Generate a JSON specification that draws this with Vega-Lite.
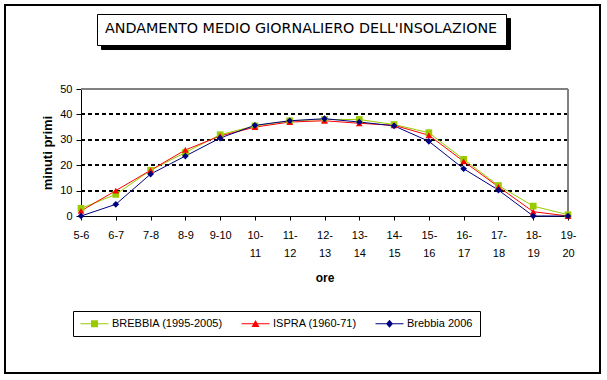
{
  "$schema": "https://vega.github.io/schema/vega-lite/v6.json",
  "width": 595,
  "height": 368,
  "autosize": "none",
  "padding": {"left": 5, "top": 5, "right": 7, "bottom": 7},
  "background": "white",
  "config": {
    "view": {"stroke": "black", "strokeWidth": 2, "fill": "white"},
    "font": "Liberation Sans",
    "axis": {"labelFont": "Liberation Sans", "titleFont": "Liberation Sans", "labelColor": "black", "titleColor": "black", "domainColor": "black", "tickColor": "black"}
  },
  "data": {
    "values": [
      {"ore": "5-6", "serie": "BREBBIA (1995-2005)", "minuti": 3},
      {"ore": "6-7", "serie": "BREBBIA (1995-2005)", "minuti": 8.5},
      {"ore": "7-8", "serie": "BREBBIA (1995-2005)", "minuti": 18},
      {"ore": "8-9", "serie": "BREBBIA (1995-2005)", "minuti": 25},
      {"ore": "9-10", "serie": "BREBBIA (1995-2005)", "minuti": 32},
      {"ore": "10-11", "serie": "BREBBIA (1995-2005)", "minuti": 35.5},
      {"ore": "11-12", "serie": "BREBBIA (1995-2005)", "minuti": 37.5},
      {"ore": "12-13", "serie": "BREBBIA (1995-2005)", "minuti": 38},
      {"ore": "13-14", "serie": "BREBBIA (1995-2005)", "minuti": 38},
      {"ore": "14-15", "serie": "BREBBIA (1995-2005)", "minuti": 36},
      {"ore": "15-16", "serie": "BREBBIA (1995-2005)", "minuti": 32.8},
      {"ore": "16-17", "serie": "BREBBIA (1995-2005)", "minuti": 22.3},
      {"ore": "17-18", "serie": "BREBBIA (1995-2005)", "minuti": 12},
      {"ore": "18-19", "serie": "BREBBIA (1995-2005)", "minuti": 3.9},
      {"ore": "19-20", "serie": "BREBBIA (1995-2005)", "minuti": 0.5},
      {"ore": "5-6", "serie": "ISPRA (1960-71)", "minuti": 2},
      {"ore": "6-7", "serie": "ISPRA (1960-71)", "minuti": 10},
      {"ore": "7-8", "serie": "ISPRA (1960-71)", "minuti": 18},
      {"ore": "8-9", "serie": "ISPRA (1960-71)", "minuti": 26},
      {"ore": "9-10", "serie": "ISPRA (1960-71)", "minuti": 31.5},
      {"ore": "10-11", "serie": "ISPRA (1960-71)", "minuti": 35},
      {"ore": "11-12", "serie": "ISPRA (1960-71)", "minuti": 37},
      {"ore": "12-13", "serie": "ISPRA (1960-71)", "minuti": 37.5},
      {"ore": "13-14", "serie": "ISPRA (1960-71)", "minuti": 36.5},
      {"ore": "14-15", "serie": "ISPRA (1960-71)", "minuti": 35.7},
      {"ore": "15-16", "serie": "ISPRA (1960-71)", "minuti": 31.8},
      {"ore": "16-17", "serie": "ISPRA (1960-71)", "minuti": 21.5},
      {"ore": "17-18", "serie": "ISPRA (1960-71)", "minuti": 11.5},
      {"ore": "18-19", "serie": "ISPRA (1960-71)", "minuti": 1.7},
      {"ore": "19-20", "serie": "ISPRA (1960-71)", "minuti": 0},
      {"ore": "5-6", "serie": "Brebbia 2006", "minuti": 0},
      {"ore": "6-7", "serie": "Brebbia 2006", "minuti": 4.6},
      {"ore": "7-8", "serie": "Brebbia 2006", "minuti": 16.5},
      {"ore": "8-9", "serie": "Brebbia 2006", "minuti": 23.6},
      {"ore": "9-10", "serie": "Brebbia 2006", "minuti": 30.7},
      {"ore": "10-11", "serie": "Brebbia 2006", "minuti": 35.7},
      {"ore": "11-12", "serie": "Brebbia 2006", "minuti": 37.5},
      {"ore": "12-13", "serie": "Brebbia 2006", "minuti": 38.3},
      {"ore": "13-14", "serie": "Brebbia 2006", "minuti": 37},
      {"ore": "14-15", "serie": "Brebbia 2006", "minuti": 35.5},
      {"ore": "15-16", "serie": "Brebbia 2006", "minuti": 29.4},
      {"ore": "16-17", "serie": "Brebbia 2006", "minuti": 18.6},
      {"ore": "17-18", "serie": "Brebbia 2006", "minuti": 10.2},
      {"ore": "18-19", "serie": "Brebbia 2006", "minuti": 0},
      {"ore": "19-20", "serie": "Brebbia 2006", "minuti": 0}
    ]
  },
  "encoding": {
    "x": {
      "field": "ore", "type": "ordinal",
      "sort": ["5-6","6-7","7-8","8-9","9-10","10-11","11-12","12-13","13-14","14-15","15-16","16-17","17-18","18-19","19-20"],
      "scale": {"type": "point", "range": [76, 563], "padding": 0},
      "axis": {
        "title": "ore", "offset": -157, "labelAngle": 0, "grid": false,
        "tickSize": 4, "labelPadding": 9, "labelFontSize": 11, "labelLineHeight": 18,
        "labelExpr": "length(datum.value) > 4 ? [slice(datum.value, 0, 3), slice(datum.value, 3)] : datum.value",
        "titleFontSize": 12, "titleFontWeight": "bold", "titlePadding": 14
      }
    },
    "y": {
      "field": "minuti", "type": "quantitative",
      "scale": {"domain": [0, 50], "range": [211, 84], "nice": false, "zero": true},
      "axis": {
        "title": "minuti primi", "offset": -76, "values": [0, 10, 20, 30, 40, 50], "grid": false,
        "tickSize": 5, "labelPadding": 4, "labelFontSize": 11,
        "titleFontSize": 13, "titleFontWeight": "bold", "titlePadding": 5
      }
    }
  },
  "resolve": {"scale": {"color": "independent", "shape": "independent"}},
  "layer": [
    {"mark": {"type": "rule", "strokeDash": [4, 3], "color": "black", "strokeWidth": 1}, "encoding": {"x": {"datum": "5-6"}, "x2": {"datum": "19-20"}, "y": {"datum": 10}}},
    {"mark": {"type": "rule", "strokeDash": [4, 3], "color": "black", "strokeWidth": 1}, "encoding": {"x": {"datum": "5-6"}, "x2": {"datum": "19-20"}, "y": {"datum": 20}}},
    {"mark": {"type": "rule", "strokeDash": [4, 3], "color": "black", "strokeWidth": 1}, "encoding": {"x": {"datum": "5-6"}, "x2": {"datum": "19-20"}, "y": {"datum": 30}}},
    {"mark": {"type": "rule", "strokeDash": [4, 3], "color": "black", "strokeWidth": 1}, "encoding": {"x": {"datum": "5-6"}, "x2": {"datum": "19-20"}, "y": {"datum": 40}}},
    {"mark": {"type": "rule", "color": "#808080", "strokeWidth": 1}, "encoding": {"x": {"datum": "5-6"}, "x2": {"datum": "19-20"}, "y": {"datum": 50}}},
    {"mark": {"type": "rule", "color": "#808080", "strokeWidth": 1}, "encoding": {"x": {"datum": "19-20"}, "y": {"datum": 0}, "y2": {"datum": 50}}},
    {
      "mark": {"type": "line", "strokeWidth": 1},
      "encoding": {
        "color": {
          "field": "serie", "type": "nominal",
          "scale": {"domain": ["BREBBIA (1995-2005)", "ISPRA (1960-71)", "Brebbia 2006"], "range": ["#99CC00", "#FF0000", "#000080"]},
          "legend": null
        }
      }
    },
    {
      "mark": {"type": "point", "filled": true, "opacity": 1},
      "encoding": {
        "color": {
          "field": "serie", "type": "nominal",
          "scale": {"domain": ["BREBBIA (1995-2005)", "ISPRA (1960-71)", "Brebbia 2006"], "range": ["#99CC00", "#FF0000", "#000080"]},
          "legend": null
        },
        "shape": {
          "field": "serie", "type": "nominal",
          "scale": {"domain": ["BREBBIA (1995-2005)", "ISPRA (1960-71)", "Brebbia 2006"], "range": ["square", "triangle-up", "diamond"]},
          "legend": null
        },
        "size": {"value": 45}
      }
    },
    {
      "transform": [{"filter": "datum.minuti < 0"}],
      "mark": {"type": "point", "filled": true, "opacity": 1},
      "encoding": {
        "color": {
          "field": "serie", "type": "nominal",
          "scale": {"domain": ["BREBBIA (1995-2005)", "ISPRA (1960-71)", "Brebbia 2006"], "range": ["#99CC00", "#FF0000", "#000080"]},
          "legend": {
            "title": null, "orient": "none", "legendX": 68, "legendY": 306, "direction": "horizontal",
            "strokeColor": "black", "fillColor": "white", "padding": 7,
            "labelFont": "Liberation Sans", "labelFontSize": 11, "labelColor": "black", "labelOffset": 21,
            "columnPadding": 18, "symbolSize": 100, "symbolStrokeWidth": 0
          }
        },
        "shape": {
          "field": "serie", "type": "nominal",
          "scale": {
            "domain": ["BREBBIA (1995-2005)", "ISPRA (1960-71)", "Brebbia 2006"],
            "range": [
              "M-1,-0.1H4.6V0.1H-1Z M1.1,-0.7H2.5V0.7H1.1Z",
              "M-1,-0.1H4.6V0.1H-1Z M1.8,-0.75L2.6,0.65H1Z",
              "M-1,-0.1H4.6V0.1H-1Z M1.8,-0.8L2.5,0L1.8,0.8L1.1,0Z"
            ]
          },
          "legend": {
            "title": null, "orient": "none", "legendX": 68, "legendY": 306, "direction": "horizontal",
            "strokeColor": "black", "fillColor": "white", "padding": 7,
            "labelFont": "Liberation Sans", "labelFontSize": 11, "labelColor": "black", "labelOffset": 21,
            "columnPadding": 18, "symbolSize": 100, "symbolStrokeWidth": 0
          }
        }
      }
    },
    {
      "mark": {"type": "point", "filled": true},
      "encoding": {
        "size": {
          "datum": "a", "type": "ordinal", "scale": {"domain": ["a"], "range": [0, 0]},
          "legend": {
            "title": "ANDAMENTO MEDIO GIORNALIERO DELL'INSOLAZIONE", "orient": "none", "legendX": 92, "legendY": 9,
            "titleFont": "DejaVu Sans", "titleFontSize": 14.3, "titleFontWeight": "normal", "titleColor": "black", "titleLimit": 600,
            "strokeColor": "black", "fillColor": "white", "padding": 8, "titlePadding": 0,
            "symbolSize": 0, "labelFontSize": 0, "labelExpr": "' '", "labelOffset": 0, "labelLimit": 1000, "zindex": 2
          }
        },
        "opacity": {
          "datum": "b", "type": "ordinal", "scale": {"domain": ["b"], "range": [0, 0]},
          "legend": {
            "title": "ANDAMENTO MEDIO GIORNALIERO DELL'INSOLAZIONE", "orient": "none", "legendX": 96, "legendY": 13,
            "titleFont": "DejaVu Sans", "titleFontSize": 14.3, "titleFontWeight": "normal", "titleColor": "black", "titleLimit": 600,
            "strokeColor": "black", "fillColor": "black", "padding": 8, "titlePadding": 0,
            "symbolSize": 0, "labelFontSize": 0, "labelExpr": "' '", "labelOffset": 0, "labelLimit": 1000, "zindex": 1
          }
        }
      }
    }
  ]
}
